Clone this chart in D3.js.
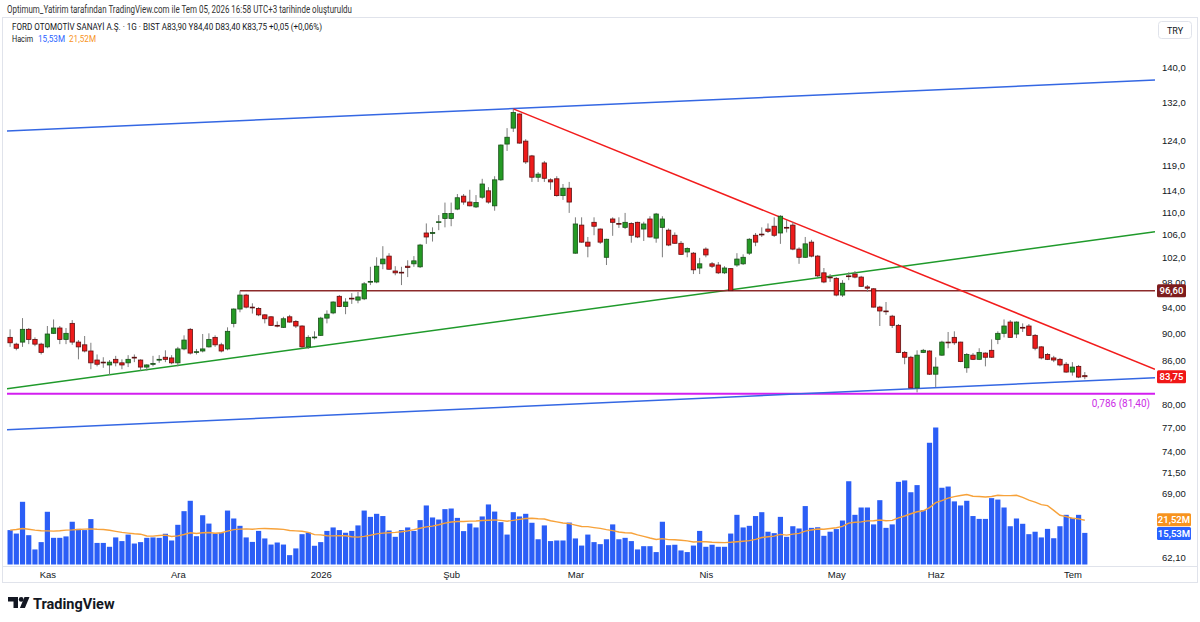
<!DOCTYPE html>
<html>
<head>
<meta charset="utf-8">
<script src="https://cdn.jsdelivr.net/npm/d3@7"></script>
<style>
  body { margin: 0; background: #fff; }
  svg { display: block; font-family: Roboto, "Noto Sans", sans-serif; }
</style>
</head>
<body>
<svg id="chart" width="1200" height="622"></svg>
<script>
// daily bars, FROTO (BIST), late Oct 2025 -> 3 Jul 2026
const opens = [
  89.4, 88.4, 88.7, 90.6, 89.1, 88.4, 88.0, 90.0, 90.8, 89.1,
  91.5, 88.7, 88.3, 87.4, 86.1, 85.8, 85.4, 86.2, 85.7, 85.7,
  86.5, 86.1, 85.1, 85.55, 86.15, 86.5, 86.4, 85.7, 87.7, 90.6,
  87.2, 87.4, 88.0, 89.4, 88.3, 87.7, 91.5, 93.7, 95.9, 94.0,
  93.8, 92.8, 92.5, 91.2, 90.9, 92.5, 91.8, 91.1, 88.0, 89.4,
  89.7, 92.3, 93.1, 95.7, 94.1, 95.4, 95.1, 95.3, 98.0, 98.0,
  101.0, 102.3, 99.8, 99.6, 100.6, 101.0, 100.5, 106.3, 106.2, 108.2,
  108.9, 108.9, 110.6, 113.0, 111.9, 111.0, 112.8, 114.0, 111.2, 116.1,
  123.2, 126.5, 129.5, 123.8, 120.8, 116.6, 119.4, 116.1, 116.3, 113.1,
  114.5, 102.8, 107.7, 104.7, 108.2, 107.0, 102.1, 108.8, 108.0, 107.3,
  108.0, 108.2, 107.0, 108.8, 105.4, 107.3, 106.8, 105.9, 104.5, 103.0,
  102.8, 100.3, 103.5, 101.0, 100.8, 99.5, 100.2, 100.8, 101.0, 102.8,
  105.9, 106.1, 107.0, 107.5, 106.3, 107.3, 107.7, 103.5, 102.1, 104.7,
  102.3, 99.5, 98.8, 98.6, 95.9, 99.0, 99.3, 98.8, 97.2, 96.9,
  94.0, 93.4, 92.6, 91.2, 87.2, 86.5, 82.2, 87.2, 87.4, 84.1,
  86.8, 88.7, 89.4, 88.7, 85.0, 86.8, 86.2, 87.1, 87.5, 89.1,
  90.0, 91.7, 89.9, 90.9, 91.1, 89.7, 88.0, 86.9, 86.4, 86.2,
  85.5, 84.4, 85.2, 83.9
];
const highs = [
  90.6, 88.6, 92.3, 90.8, 89.4, 88.6, 91.1, 92.1, 91.1, 90.8,
  92.0, 89.0, 89.6, 88.6, 86.9, 86.5, 86.1, 86.7, 86.2, 86.8,
  86.9, 86.2, 85.5, 86.7, 86.8, 87.5, 86.8, 88.0, 89.7, 90.8,
  87.7, 89.9, 90.0, 89.7, 88.6, 90.9, 93.8, 96.6, 96.1, 94.6,
  94.0, 92.9, 92.6, 91.8, 92.5, 92.8, 92.0, 91.2, 89.7, 90.3,
  92.5, 93.5, 94.9, 95.9, 95.4, 96.2, 96.4, 98.0, 100.5, 102.1,
  104.0, 102.8, 100.6, 100.5, 101.6, 102.3, 104.4, 108.0, 107.3, 109.5,
  111.8, 111.8, 113.4, 113.4, 114.2, 113.2, 116.3, 114.7, 116.8, 123.1,
  126.5, 130.6, 129.6, 124.2, 121.0, 117.6, 119.8, 116.4, 116.8, 115.3,
  115.7, 109.1, 109.1, 105.6, 109.1, 107.1, 105.3, 109.1, 109.1, 109.9,
  108.2, 108.3, 108.3, 109.3, 109.9, 109.3, 107.1, 106.4, 104.9, 103.8,
  103.0, 102.0, 103.8, 101.3, 101.3, 100.6, 100.3, 102.8, 102.6, 105.4,
  106.3, 107.3, 108.0, 109.1, 109.5, 108.6, 108.2, 103.8, 105.6, 105.1,
  102.5, 100.3, 99.3, 98.8, 98.3, 99.6, 99.8, 99.0, 97.5, 97.0,
  94.2, 94.8, 92.8, 91.4, 87.4, 86.7, 87.5, 87.7, 87.5, 86.5,
  88.9, 90.2, 90.3, 88.75, 87.1, 87.1, 87.8, 87.2, 89.1, 90.3,
  92.1, 92.0, 91.8, 91.5, 91.4, 89.9, 88.1, 87.1, 86.7, 86.4,
  85.8, 85.8, 85.4, 84.4
];
const lows = [
  88.0, 87.5, 88.0, 88.4, 88.1, 86.9, 87.8, 89.9, 88.4, 88.4,
  88.3, 86.2, 87.2, 84.8, 85.2, 85.0, 84.0, 85.2, 84.8, 85.1,
  85.8, 84.6, 84.6, 85.2, 85.7, 85.8, 85.5, 85.2, 87.5, 86.9,
  86.9, 87.2, 87.9, 88.0, 87.2, 87.5, 90.9, 93.2, 93.8, 93.0,
  92.6, 91.5, 91.1, 90.9, 90.8, 91.6, 90.8, 87.8, 87.7, 89.1,
  89.6, 91.5, 92.9, 94.0, 92.9, 94.5, 94.6, 95.1, 97.5, 97.8,
  100.1, 100.0, 99.1, 97.5, 98.8, 100.5, 100.3, 104.4, 104.8, 106.8,
  107.3, 107.5, 110.4, 111.4, 111.1, 110.8, 112.5, 111.6, 110.3, 115.9,
  121.8, 125.7, 123.3, 119.2, 115.7, 115.7, 115.7, 114.2, 112.9, 112.3,
  109.9, 102.7, 104.6, 102.1, 105.9, 104.4, 100.8, 105.8, 107.2, 107.0,
  104.6, 105.4, 104.9, 105.5, 104.6, 102.1, 104.0, 104.4, 102.5, 102.1,
  99.3, 99.3, 102.1, 100.3, 99.3, 99.3, 96.55, 100.5, 100.8, 102.5,
  104.0, 105.6, 106.3, 105.6, 104.4, 106.4, 103.3, 101.0, 102.0, 102.1,
  98.8, 97.8, 98.0, 95.7, 95.6, 98.3, 98.6, 97.2, 96.4, 93.95,
  91.1, 92.8, 90.8, 87.1, 85.5, 82.15, 81.6, 87.1, 84.0, 82.3,
  86.7, 87.8, 88.3, 85.8, 84.3, 86.1, 86.1, 85.2, 86.4, 88.4,
  89.4, 89.35, 89.3, 90.2, 89.6, 87.5, 86.2, 86.1, 85.8, 85.2,
  84.3, 83.9, 83.55, 83.4
];
const closes = [
  88.6, 87.8, 90.6, 89.1, 88.4, 87.2, 89.9, 90.8, 89.1, 90.0,
  88.7, 88.0, 87.4, 85.7, 85.5, 85.75, 85.8, 85.7, 85.4, 86.2,
  86.45, 85.1, 85.4, 85.6, 86.2, 86.2, 85.7, 87.7, 89.0, 87.1,
  87.3, 87.7, 89.1, 88.3, 87.4, 90.3, 93.7, 95.9, 94.0, 93.95,
  92.8, 92.2, 91.2, 91.15, 92.2, 91.7, 91.1, 88.0, 89.4, 89.45,
  92.3, 92.9, 94.8, 94.1, 94.8, 95.35, 95.6, 97.7, 98.1, 100.6,
  101.8, 100.1, 99.5, 99.55, 100.4, 101.5, 104.2, 105.6, 106.4, 108.3,
  109.8, 109.8, 112.7, 111.9, 111.2, 111.8, 115.3, 111.9, 116.1, 123.0,
  124.6, 129.8, 123.4, 119.6, 116.6, 117.2, 116.4, 115.7, 113.1, 114.5,
  111.9, 107.9, 104.7, 104.0, 107.5, 104.7, 105.2, 108.2, 107.95, 108.2,
  105.9, 105.6, 107.9, 105.6, 109.7, 108.8, 104.2, 104.5, 102.6, 103.6,
  100.0, 101.0, 102.5, 100.6, 99.5, 100.3, 96.6, 101.8, 102.1, 105.2,
  104.7, 106.0, 106.6, 105.9, 109.3, 107.2, 103.5, 102.1, 104.4, 102.3,
  99.0, 98.0, 98.75, 95.9, 97.8, 98.9, 98.8, 97.3, 97.0, 94.0,
  93.4, 93.35, 91.2, 87.2, 86.5, 82.2, 86.8, 87.5, 84.1, 85.1,
  88.7, 88.65, 88.6, 85.9, 86.9, 86.2, 87.2, 86.5, 86.5, 90.0,
  91.1, 89.4, 91.7, 90.85, 89.7, 87.8, 86.4, 86.2, 86.1, 85.4,
  84.4, 85.1, 83.7, 83.75
];
// volume, millions
const volumes = [
  16.9, 15.2, 30.8, 14.4, 7.4, 11.0, 25.9, 13.1, 13.1, 13.8,
  21.0, 17.5, 16.9, 22.3, 10.6, 10.6, 8.7, 13.3, 11.5, 14.7,
  10.3, 11.0, 13.1, 13.3, 13.1, 15.1, 11.8, 19.5, 26.2, 31.3,
  13.9, 24.2, 20.1, 15.2, 15.6, 26.5, 22.6, 19.0, 13.3, 11.1,
  16.5, 12.8, 9.8, 10.8, 9.8, 4.6, 7.9, 14.9, 15.7, 9.2,
  11.0, 16.5, 18.2, 16.9, 15.6, 16.5, 19.2, 26.5, 23.4, 24.9,
  23.8, 16.7, 13.6, 16.9, 18.2, 16.5, 21.8, 29.0, 23.1, 22.1,
  27.2, 27.5, 22.9, 16.4, 20.1, 18.2, 23.6, 29.5, 26.0, 20.8,
  14.7, 25.7, 23.6, 24.9, 20.5, 12.4, 19.2, 11.5, 11.8, 11.8,
  20.6, 12.8, 9.3, 14.7, 11.0, 10.0, 12.4, 19.7, 12.4, 13.1,
  11.5, 7.4, 9.0, 9.0, 6.1, 21.0, 9.5, 9.7, 6.9, 6.1,
  9.3, 16.5, 8.7, 9.7, 8.7, 8.7, 15.2, 24.4, 18.2, 19.0,
  23.8, 25.7, 16.1, 15.4, 23.4, 13.6, 18.8, 17.7, 28.7, 18.0,
  18.3, 14.1, 16.1, 17.4, 21.6, 40.9, 24.4, 28.0, 28.0, 19.7,
  31.6, 18.0, 19.7, 40.6, 41.3, 35.5, 39.0, 26.7, 59.8, 67.3,
  37.7, 38.3, 31.0, 29.0, 31.3, 23.8, 22.4, 22.4, 32.6, 31.9,
  28.0, 18.8, 22.6, 20.0, 14.9, 16.1, 13.3, 17.5, 12.9, 18.8,
  24.4, 22.9, 24.4, 15.53
];
// volume MA(20) for the bars whose window starts before the view
const volumeMaHead = [16.9, 17.2, 17.7, 17.3, 16.9, 16.6, 16.5, 16.4, 16.6, 16.9,
                      17.0, 17.2, 17.4, 17.5, 17.3, 17.2, 16.8, 16.3, 15.8];
const maLength = 20;

const monthLabels = ["Kas", "Ara", "2026", "Şub", "Mar", "Nis", "May", "Haz", "Tem"];
const monthBars   = [6, 27, 50, 71, 91, 112, 133, 149, 171];
const priceTicks  = [140, 132, 124, 119, 114, 110, 106, 102, 98, 94, 90, 86, 80, 77, 74, 71.5, 69, 62.1];

// drawings: [bar index, price] pairs
const channelTop    = [[-0.5, 125.9], [184.3, 137.0]];
const channelBottom = [[-0.5, 76.7], [184.3, 83.6]];
const risingTrend   = [[-0.5, 82.1], [184.3, 106.5]];
const fallingTrend  = [[81, 130.6], [184.3, 84.8]];
const resistance    = [[37, 96.6], [184.3, 96.6]];
const fibLevel      = [[-0.5, 81.4], [184.3, 81.4]];

const svg = d3.select("#chart");
const fmtPrice = v => (v >= 100 ? v.toFixed(1) : v.toFixed(2)).replace(".", ",");
const fmtComma = v => v.toFixed(2).replace(".", ",");

const x = d3.scaleLinear().domain([-0.5, 184.3]).range([7, 1155]);
const y = d3.scaleLog().domain([62.1, 140]).range([557, 67]);
const yVol = d3.scaleLinear().domain([0, d3.max(volumes)]).range([564.5, 427.5]);

const bars = opens.map((o, i) => ({ i, o, h: highs[i], l: lows[i], c: closes[i], v: volumes[i] }));
const last = bars[bars.length - 1];

// frame
svg.append("rect")
  .attr("x", 2.5).attr("y", 17.5).attr("width", 1195).attr("height", 565)
  .attr("fill", "none").attr("stroke", "#e0e3eb");
svg.append("line")
  .attr("x1", 2.5).attr("x2", 1197.5).attr("y1", 566.5).attr("y2", 566.5)
  .attr("stroke", "#e0e3eb");

// header texts
svg.append("text").attr("x", 7).attr("y", 12.5)
  .attr("font-size", 10).attr("fill", "#333")
  .attr("textLength", 345).attr("lengthAdjust", "spacingAndGlyphs")
  .text("Optimum_Yatirim tarafından TradingView.com ile Tem 05, 2026 16:58 UTC+3 tarihinde oluşturuldu");

const legend = svg.append("g").attr("font-size", 9.5).attr("fill", "#131722");
legend.append("text").attr("x", 12).attr("y", 30)
  .attr("textLength", 310).attr("lengthAdjust", "spacingAndGlyphs")
  .text(`FORD OTOMOTİV SANAYİ A.Ş. · 1G · BIST  A${fmtComma(last.o)}  Y${fmtComma(last.h)}  D${fmtComma(last.l)}  K${fmtComma(last.c)}  +0,05 (+0,06%)`);
legend.append("text").attr("x", 12).attr("y", 42)
  .attr("textLength", 21).attr("lengthAdjust", "spacingAndGlyphs").text("Hacim");
legend.append("text").attr("x", 38).attr("y", 42).attr("fill", "#2962ff")
  .attr("textLength", 27).attr("lengthAdjust", "spacingAndGlyphs").text("15,53M");
legend.append("text").attr("x", 69).attr("y", 42).attr("fill", "#f7931e")
  .attr("textLength", 27).attr("lengthAdjust", "spacingAndGlyphs").text("21,52M");

// TRY currency button
svg.append("rect").attr("x", 1158.5).attr("y", 21.5).attr("width", 33).attr("height", 17).attr("rx", 3)
  .attr("fill", "#fff").attr("stroke", "#e0e3eb");
svg.append("text").attr("x", 1175).attr("y", 33.5).attr("text-anchor", "middle")
  .attr("font-size", 9).attr("fill", "#131722").text("TRY");

svg.append("defs").append("clipPath").attr("id", "pane")
  .append("rect").attr("x", 7).attr("y", 18).attr("width", 1148).attr("height", 548);

const pane = svg.append("g").attr("clip-path", "url(#pane)");

// volume
pane.append("g").selectAll("rect").data(bars).join("rect")
  .attr("x", d => x(d.i) - 2.6)
  .attr("width", 5.2)
  .attr("y", d => yVol(d.v))
  .attr("height", d => yVol(0) - yVol(d.v))
  .attr("fill", "#2b5ef6");

const volumeMa = volumes.map((v, i) => i < volumeMaHead.length
  ? volumeMaHead[i]
  : d3.mean(volumes.slice(i - maLength + 1, i + 1)));

pane.append("path").datum(volumeMa)
  .attr("fill", "none").attr("stroke", "#f7a23a").attr("stroke-width", 1.4)
  .attr("d", d3.line().x((d, i) => x(i)).y(d => yVol(d)));

// drawings
const seg = d3.line().x(d => x(d[0])).y(d => y(d[1]));
const drawSeg = (pts, color, w) => pane.append("path").datum(pts)
  .attr("fill", "none").attr("stroke", color).attr("stroke-width", w).attr("d", seg);

drawSeg(fibLevel, "#d31ff0", 2);
drawSeg(channelTop, "#3467e3", 1.5);
drawSeg(channelBottom, "#3467e3", 1.5);
drawSeg(risingTrend, "#1f9a2b", 1.5);
drawSeg(resistance, "#8c2b2b", 1.5);
drawSeg(fallingTrend, "#f21c1c", 1.5);

// candles
const candle = pane.append("g").selectAll("g").data(bars).join("g");
candle.append("line")
  .attr("x1", d => x(d.i)).attr("x2", d => x(d.i))
  .attr("y1", d => y(d.h)).attr("y2", d => y(d.l))
  .attr("stroke", "#7d7d7d").attr("stroke-width", 1);
candle.append("rect")
  .attr("x", d => x(d.i) - 2.2)
  .attr("width", 4.4)
  .attr("y", d => y(Math.max(d.o, d.c)))
  .attr("height", d => Math.max(0.8, Math.abs(y(d.o) - y(d.c))))
  .attr("fill", d => d.c >= d.o ? "#249a24" : "#ee1b1b")
  .attr("stroke", d => d.c >= d.o ? "#1a4f1a" : "#5c1010")
  .attr("stroke-width", 0.8);

// price axis
const yAxis = svg.append("g").attr("transform", "translate(1158,0)")
  .call(d3.axisRight(y).tickValues(priceTicks).tickSize(0).tickPadding(4).tickFormat(fmtPrice));
yAxis.select(".domain").remove();
yAxis.selectAll("text").attr("font-size", 9.5).attr("fill", "#131722").attr("font-family", null);

// time axis
const xAxis = svg.append("g").attr("transform", "translate(0,567)")
  .call(d3.axisBottom(x).tickValues(monthBars).tickSize(0).tickPadding(4)
    .tickFormat((d, i) => monthLabels[i]));
xAxis.select(".domain").remove();
xAxis.selectAll("text").attr("font-size", 9.5).attr("fill", "#131722").attr("font-family", null);

// axis tags
const tag = (yPos, label, fill, w) => {
  svg.append("rect").attr("x", 1157).attr("y", yPos - 6.5).attr("width", w).attr("height", 13)
    .attr("rx", 1.5).attr("fill", fill);
  svg.append("text").attr("x", 1157 + w / 2).attr("y", yPos + 3.5).attr("text-anchor", "middle")
    .attr("font-size", 9.5).attr("font-weight", 600).attr("fill", "#fff").text(label);
};
tag(y(resistance[0][1]), fmtComma(resistance[0][1]), "#7e1d1d", 29);
tag(y(last.c), fmtComma(last.c), "#f01717", 29);
tag(yVol(volumeMa[volumeMa.length - 1]) - 0.5, "21,52M", "#f7931e", 34);
tag(yVol(last.v) + 0.5, "15,53M", "#2962ff", 34);

svg.append("text").attr("x", 1150).attr("y", 407).attr("text-anchor", "end")
  .attr("font-size", 10).attr("fill", "#cc2ee6")
  .text(`0,786 (${fmtComma(fibLevel[0][1])})`);

// TradingView mark
const logo = svg.append("g").attr("fill", "#131722");
logo.append("path").attr("d", "M8,597h10v11h-4.5v-6.5H8z");
logo.append("circle").attr("cx", 21.2).attr("cy", 599.4).attr("r", 2.4);
logo.append("path").attr("d", "M24.5,597h5l-4.6,11h-5z");
svg.append("text").attr("x", 33).attr("y", 608.5)
  .attr("font-size", 14.5).attr("font-weight", 700).attr("fill", "#131722")
  .text("TradingView");
</script>
</body>
</html>
